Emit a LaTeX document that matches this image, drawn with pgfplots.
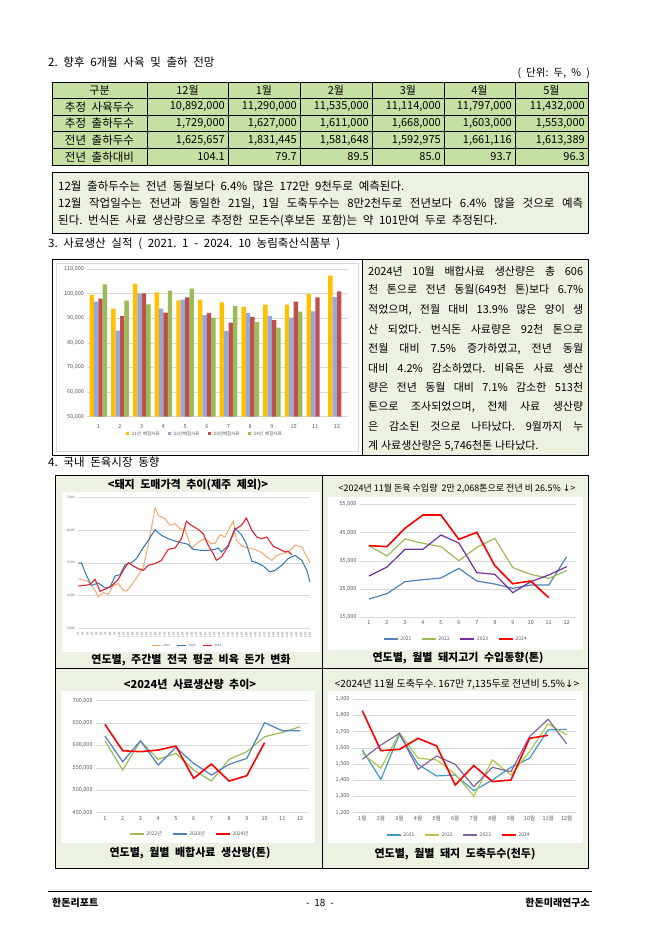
\documentclass[border=0pt]{standalone}
\usepackage{pgfplots}
\pgfplotsset{compat=1.18}
\usepackage{fontspec}
\setmainfont{Noto Sans CJK KR}[WordSpace=2.2]
\newfontfamily\boxfont{Noto Sans CJK KR}[WordSpace=1.0]
\newfontfamily\dejavu{DejaVu Sans}
\newcommand\fs[1]{\fontsize{#1}{#1}\selectfont}
\newcommand\js{\frenchspacing\spaceskip=0.25em plus 10em\xspaceskip=0.25em plus 10em\relax}
\definecolor{tblgreen}{RGB}{198,224,164}
\definecolor{boxgreen}{RGB}{236,242,226}
\definecolor{cyel}{RGB}{255,192,0}
\definecolor{cblu}{RGB}{149,170,220}
\definecolor{cred}{RGB}{192,80,77}
\definecolor{cgrn}{RGB}{155,187,89}
\definecolor{lorange}{RGB}{244,170,110}
\definecolor{lblue}{RGB}{46,117,182}
\definecolor{lred}{RGB}{232,33,43}
\definecolor{xblue}{RGB}{79,129,189}
\definecolor{xgreen}{RGB}{155,187,89}
\definecolor{xpurple}{RGB}{112,48,160}
\definecolor{xpurple2}{RGB}{128,100,162}
\definecolor{gridgray}{RGB}{217,217,217}
\definecolor{tickgray}{RGB}{89,89,89}
\pgfplotsset{
  xl/.style={
    scale only axis, anchor=south west, clip=false,
    axis line style={draw=none},
    tick style={draw=none},
    ymajorgrids, major grid style={gridgray,line width=0.6pt},
    scaled ticks=false, no markers,
    /pgf/number format/fixed,
    /pgf/number format/assume math mode=true,
    /pgf/number format/1000 sep={,},
    ticklabel style={font=\fs{5.5}, text=tickgray},
    legend style={draw=none, fill=none, font=\fs{5}, text=tickgray, legend columns=-1,
      /tikz/every even column/.append style={column sep=8pt}, anchor=center},
    legend image code/.code={\draw[##1] (0pt,0pt) -- (14pt,0pt);},
  }
}
\begin{document}
\frenchspacing
\begin{tikzpicture}
% ---------------- backgrounds ----------------
\begin{scope}[x=1pt,y=-1pt]
\fill[white] (0,0) rectangle (645,932);
% table
\fill[tblgreen] (52,82) rectangle (588,165);
\draw[line width=0.8pt] (52,82) rectangle (588,165);
\foreach \yy in {98.6,115.2,131.8,148.4} \draw[line width=0.8pt] (52,\yy) -- (588,\yy);
\foreach \xx in {147,228,300,372,444,515} \draw[line width=0.8pt] (\xx,82) -- (\xx,165);
% text box
\filldraw[fill=boxgreen, draw=black, line width=0.8pt] (52,172) rectangle (588,233);
% bar chart box
\draw[line width=0.8pt] (52,259) rectangle (362,455);
\filldraw[fill=white, draw=gridgray] (56,263) rectangle (358,451);
\filldraw[fill=boxgreen, draw=black, line width=0.8pt] (362,259) rectangle (588,455);
% section 4 panels
\fill[boxgreen] (55,475) rectangle (588,868);
\fill[white] (62,492) rectangle (320,652);
\fill[white] (328,497) rectangle (583,650);
\fill[white] (61,691) rectangle (315,843);
\fill[white] (328,691) rectangle (583,843);
\draw[line width=0.8pt] (55,475) rectangle (588,868);
\draw[line width=0.8pt] (322,475) -- (322,868);
\draw[line width=0.8pt] (55,668) -- (588,668);
% footer line
\draw[line width=0.8pt] (48,891) -- (592,891);
\end{scope}

% ---------------- bar chart ----------------
\begin{axis}[xl, at={(87.45pt,-416.7pt)}, width=260.4pt, height=147.7pt,
  ybar=0pt, bar width=4.4pt,
  xmin=0.5, xmax=12.5, ymin=50000, ymax=110000,
  ytick={50000,60000,...,110000}, xtick={1,...,12},
  legend style={at={(0.45,-0.117)}, font=\fs{4.5}, /tikz/every even column/.append style={column sep=6pt}},
  legend image code/.code={\fill[#1] (0pt,-1.5pt) rectangle (3pt,1.5pt);}]
\addplot[fill=cyel, draw=none] coordinates {(1,99460) (2,93900) (3,104050) (4,100540) (5,97300) (6,97570) (7,96490) (8,94600) (9,95540) (10,95540) (11,99860) (12,107300)};
\addplot[fill=cblu, draw=none] coordinates {(1,96760) (2,85000) (3,100000) (4,93920) (5,97570) (6,91220) (7,84730) (8,92160) (9,90950) (10,90270) (11,92840) (12,98650)};
\addplot[fill=cred, draw=none] coordinates {(1,97970) (2,90950) (3,100130) (4,92300) (5,98510) (6,92160) (7,88240) (8,90540) (9,89190) (10,96760) (11,98510) (12,100950)};
\addplot[fill=cgrn, draw=none] coordinates {(1,103780) (2,97160) (3,95680) (4,101220) (5,102030) (6,90270) (7,95000) (8,88380) (9,86220) (10,92700)};
\legend{'21년 배합사료,'22년배합사료,'23년배합사료,'24년 배합사료}
\end{axis}

% ---------------- top-left: weekly prices ----------------
\begin{axis}[xl, at={(78.3pt,-628.3pt)}, width=231.7pt, height=130.6pt,
  xmin=1, xmax=52, ymin=3000, ymax=7000, ytick={3000,4000,...,7000},
  xtick={1,...,52}, xticklabel={\pgfmathprintnumber{\tick}주},
  yticklabel style={font=\fs{3.2}},
  xticklabel style={rotate=90, anchor=east, font=\fs{2.6}},
  legend style={at={(0.47,-0.133)}, font=\fs{3}, /tikz/every even column/.append style={column sep=5pt}},
  legend image code/.code={\draw[#1] (0pt,0pt) -- (9pt,0pt);}]
\addplot[lorange, line width=1pt] coordinates {(1,4520) (3.2,4439) (4.7,4163) (5.4,3959) (6.5,4092) (7.6,4041) (8.7,4316) (9.8,4367) (10.9,4163) (11.6,4143) (12.7,4316) (14.2,4622) (15.3,4878) (16.4,5541) (17.9,6684) (18.6,6459) (20.1,6357) (21.2,6153) (22.3,6204) (23.4,6051) (24.5,6031) (25.9,5439) (27.4,5643) (28.9,5745) (30.3,5592) (31.1,5592) (32.2,5867) (33.3,5796) (34.0,6000) (35.1,6286) (35.8,5694) (37.0,5520) (38.4,5459) (39.9,5418) (41.4,5316) (42.5,5184) (43.6,5082) (44.7,5235) (46.5,5306) (47.6,5388) (48.7,5541) (50.2,5490) (52,5010)};
\addplot[lblue, line width=1pt] coordinates {(1,5000) (1.7,5000) (2.8,4622) (3.9,4316) (5.4,4388) (6.9,4235) (8.0,4265) (9.1,4602) (10.2,4643) (11.3,4949) (12.7,5010) (13.8,5133) (14.9,5388) (16.4,5694) (17.9,6020) (19.3,5847) (20.8,5745) (22.3,5673) (23.7,5622) (25.2,5571) (26.3,5418) (28.1,5388) (29.6,5388) (31.1,5418) (31.8,5459) (32.5,5337) (34.0,5541) (35.5,6071) (36.9,5867) (38.0,5592) (39.2,5051) (40.3,5010) (41.7,4908) (43.2,4724) (44.3,4776) (45.8,4929) (47.2,5133) (48.7,5235) (50.2,5082) (51.3,4776) (52,4418)};
\addplot[lred, line width=1.1pt] coordinates {(1,4296) (2.5,4316) (3.6,4347) (4.7,4500) (5.8,4133) (7.2,4214) (8.3,4296) (9.8,4500) (10.9,4776) (12.0,5010) (13.1,4908) (14.2,4827) (15.3,4776) (16.4,4929) (17.9,4980) (19.3,5082) (20.8,5418) (22.3,5459) (23.7,5745) (24.8,6276) (25.9,6153) (27.4,6031) (28.5,5898) (29.6,5541) (30.7,5286) (31.4,5082) (32.5,5184) (34.0,5510) (35.5,6031) (36.9,6153) (38.0,6378) (39.2,6000) (40.3,5796) (41.4,5745) (42.5,5796) (43.9,5510) (45.4,5418) (46.5,5337) (47.2,5357) (48.0,5255)};
\legend{2022,2023,2024}
\end{axis}

% ---------------- top-right: imports ----------------
\begin{axis}[xl, at={(360pt,-617.3pt)}, width=215.7pt, height=113pt,
  xmin=0.5, xmax=12.5, ymin=15000, ymax=55000, ytick={15000,25000,...,55000}, xtick={1,...,12},
  legend style={at={(0.445,-0.192)}}]
\addplot[xblue, line width=1.2pt] coordinates {(1,21470) (2,23360) (3,27610) (4,28320) (5,28910) (6,32330) (7,27840) (8,26780) (9,25250) (10,26430) (11,26430) (12,36460)};
\addplot[xgreen, line width=1.2pt] coordinates {(1,40360) (2,36700) (3,42720) (4,41190) (5,40010) (6,35050) (7,39770) (8,42960) (9,32570) (10,30210) (11,28790) (12,31510)};
\addplot[xpurple, line width=1.2pt] coordinates {(1,29620) (2,32800) (3,39060) (4,39060) (5,44140) (6,41300) (7,30800) (8,30210) (9,23710) (10,27610) (11,29970) (12,32920)};
\addplot[red, line width=1.6pt] coordinates {(1,40360) (2,40010) (3,46500) (4,51220) (5,51220) (6,42600) (7,45080) (8,33280) (9,26900) (10,27840) (11,21940)};
\legend{2021,2022,2023,2024}
\end{axis}

% ---------------- bottom-left: feed production ----------------
\begin{axis}[xl, at={(96.1pt,-812.7pt)}, width=212.8pt, height=112pt,
  xmin=0.5, xmax=12.5, ymin=450000, ymax=700000, ytick={450000,500000,...,700000}, xtick={1,...,12},
  legend style={at={(0.44,-0.19)}}]
\addplot[xgreen, line width=1.2pt] coordinates {(1,610700) (2,545200) (3,610000) (4,569000) (5,582400) (6,545200) (7,520700) (8,569000) (9,586200) (10,619600) (11,629300) (12,642000)};
\addplot[xblue, line width=1.2pt] coordinates {(1,621100) (2,563800) (3,610700) (4,556400) (5,595800) (6,560100) (7,534100) (8,557900) (9,571300) (10,650900) (11,633000) (12,633000)};
\addplot[red, line width=1.6pt] coordinates {(1,647200) (2,588400) (3,586200) (4,589900) (5,598800) (6,526700) (7,558600) (8,520700) (9,532600) (10,606300)};
\legend{2022년,2023년,2024년}
\end{axis}

% ---------------- bottom-right: slaughter ----------------
\begin{axis}[xl, at={(353pt,-812.7pt)}, width=223pt, height=113.4pt,
  xmin=0.5, xmax=12.5, ymin=1200, ymax=1900, ytick={1200,1300,...,1900}, xtick={1,...,12},
  xticklabels={1월,2월,3월,4월,5월,6월,7월,8월,9월,10월,11월,12월},
  legend style={at={(0.475,-0.197)}}]
\addplot[xblue!80!cyan, line width=1.2pt] coordinates {(1,1587) (2,1406) (3,1684) (4,1499) (5,1427) (6,1433) (7,1336) (8,1402) (9,1480) (10,1536) (11,1711) (12,1715)};
\addplot[xgreen!80!yellow, line width=1.2pt] coordinates {(1,1567) (2,1474) (3,1694) (4,1536) (5,1526) (6,1439) (7,1303) (8,1526) (9,1433) (10,1577) (11,1748) (12,1680)};
\addplot[xpurple2, line width=1.2pt] coordinates {(1,1530) (2,1618) (3,1690) (4,1468) (5,1550) (6,1499) (7,1361) (8,1480) (9,1453) (10,1670) (11,1777) (12,1624)};
\addplot[red, line width=1.6pt] coordinates {(1,1830) (2,1583) (3,1591) (4,1659) (5,1612) (6,1371) (7,1491) (8,1392) (9,1402) (10,1659) (11,1678)};
\legend{2021,2022,2023,2024}
\end{axis}

% ---------------- texts ----------------
\begin{scope}[x=1pt,y=-1pt, every node/.style={inner sep=0pt}]
\node[anchor=west, font=\fs{11.5}] at (48,62) {2. 향후 6개월 사육 및 출하 전망};
\node[anchor=east, font=\fs{10.5}] at (590,73) {( 단위: 두, \% )};
\foreach \xx/\tt in {99.5/구분,187.5/12월,264/1월,336/2월,408/3월,479.5/4월,551.5/5월}
  \node[font=\fs{11}] at (\xx,90.5) {\tt};
\node[font=\fs{11.5}] at (99.5,107) {추정 사육두수};
\node[font=\fs{11.5}] at (99.5,123.6) {추정 출하두수};
\node[font=\fs{11.5}] at (99.5,140.2) {전년 출하두수};
\node[font=\fs{11.5}] at (99.5,156.8) {전년 출하대비};
\begin{scope}[every node/.append style={anchor=east, font=\fs{11}}]
\node at (225,107) {10,892,000}; \node at (297,107) {11,290,000}; \node at (369,107) {11,535,000};
\node at (441,107) {11,114,000}; \node at (512,107) {11,797,000}; \node at (585,107) {11,432,000};
\node at (225,123.6) {1,729,000}; \node at (297,123.6) {1,627,000}; \node at (369,123.6) {1,611,000};
\node at (441,123.6) {1,668,000}; \node at (512,123.6) {1,603,000}; \node at (585,123.6) {1,553,000};
\node at (225,140.2) {1,625,657}; \node at (297,140.2) {1,831,445}; \node at (369,140.2) {1,581,648};
\node at (441,140.2) {1,592,975}; \node at (512,140.2) {1,661,116}; \node at (585,140.2) {1,613,389};
\node at (225,156.8) {104.1}; \node at (297,156.8) {79.7}; \node at (369,156.8) {89.5};
\node at (441,156.8) {85.0}; \node at (512,156.8) {93.7}; \node at (585,156.8) {96.3};
\end{scope}
\begin{scope}[every node/.append style={anchor=west, font=\fs{11.5}\frenchspacing}]
\node at (58,186) {12월 출하두수는 전년 동월보다 6.4\% 많은 172만 9천두로 예측된다.};
\node at (58,203.5) {\boxfont\js\makebox[525pt][s]{12월 작업일수는 전년과 동일한 21일, 1일 도축두수는 8만2천두로 전년보다 6.4\% 많을 것으로 예측}};
\node at (58,221) {된다. 번식돈 사료 생산량으로 추정한 모돈수(후보돈 포함)는 약 101만여 두로 추정된다.};
\node at (48,244) {3. 사료생산 실적 ( 2021. 1 - 2024. 10 농림축산식품부 )};
\end{scope}
\begin{scope}[every node/.append style={anchor=west, font=\fs{11}\boxfont\js}]
\node at (368,271) {\makebox[215pt][s]{2024년 10월 배합사료 생산량은 총 606}};
\node at (368,290.4) {\makebox[215pt][s]{천 톤으로 전년 동월(649천 톤)보다 6.7\%}};
\node at (368,309.8) {\makebox[215pt][s]{적었으며, 전월 대비 13.9\% 많은 양이 생}};
\node at (368,329.2) {\makebox[215pt][s]{산 되었다. 번식돈 사료량은 92천 톤으로}};
\node at (368,348.6) {\makebox[215pt][s]{전월 대비 7.5\% 증가하였고, 전년 동월}};
\node at (368,368) {\makebox[215pt][s]{대비 4.2\% 감소하였다. 비육돈 사료 생산}};
\node at (368,387.4) {\makebox[215pt][s]{량은 전년 동월 대비 7.1\% 감소한 513천}};
\node at (368,406.8) {\makebox[215pt][s]{톤으로 조사되었으며, 전체 사료 생산량}};
\node at (368,426.2) {\makebox[215pt][s]{은 감소된 것으로 나타났다. 9월까지 누}};
\node at (368,445.6) {계 사료생산량은 5,746천톤 나타났다.};
\end{scope}
\node[anchor=west, font=\fs{11.5}] at (48,462) {4. 국내 돈육시장 동향};
\node[font=\fs{11}\bfseries] at (188,485) {<돼지 도매가격 추이(제주 제외)>};
\node[font=\fs{9}\boxfont] at (457,489) {<2024년 11월 돈육 수입량~ 2만 2,068톤으로 전년 비 26.5\% {\dejavu ↓}>};
\node[font=\fs{11}\bfseries] at (191,660) {연도별, 주간별 전국 평균 비육 돈가 변화};
\node[font=\fs{11}\bfseries] at (458,657.7) {연도별, 월별 돼지고기 수입동향(톤)};
\node[font=\fs{11}\bfseries] at (190,684) {<2024년 사료생산량 추이>};
\node[font=\fs{10}\boxfont] at (457,684) {<2024년 11월 도축두수. 167만 7,135두로 전년비 5.5\%{\dejavu ↓}>};
\node[font=\fs{11}\bfseries] at (190,852.7) {연도별, 월별 배합사료 생산량(톤)};
\node[font=\fs{11}\bfseries] at (455,854) {연도별, 월별 돼지 도축두수(천두)};
\node[anchor=west, font=\fs{10}\bfseries] at (52,903) {한돈리포트};
\node[font=\fs{10}] at (320,903) {- 18 -};
\node[anchor=east, font=\fs{10}\bfseries] at (590,903) {한돈미래연구소};
\end{scope}
\end{tikzpicture}
\end{document}
